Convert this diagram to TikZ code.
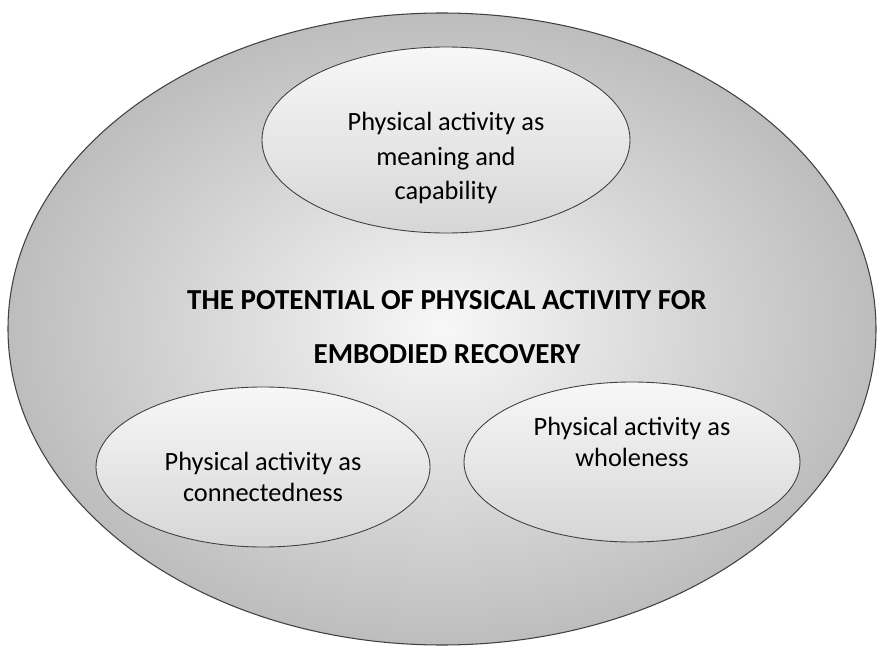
\documentclass[tikz,border=0pt]{standalone}
\usepackage{fontspec}
\setmainfont{Carlito}
\usetikzlibrary{shapes.geometric}

\definecolor{rimgray}{HTML}{BDBDBD}
\definecolor{linegray}{HTML}{404040}

\tikzset{
  outer/.style={ellipse, draw=linegray, line width=0.6pt, inner sep=0pt,
    inner color=white!97!black, outer color=rimgray},
  theme/.style={ellipse, draw=linegray, line width=0.5pt, inner sep=0pt,
    top color=white!97!black, bottom color=white!84!black,
    minimum width=6.7cm, minimum height=3.2cm},
  themetext/.style={align=center, font=\fontsize{15}{18}\selectfont},
  titletext/.style={align=center, font=\fontsize{16.5}{31}\selectfont\bfseries}
}

\begin{document}
\begin{tikzpicture}
    \useasboundingbox (0,0) rectangle (17.54,12.92);

    %Grande ellipse
    \node[outer, minimum width=17.36cm, minimum height=12.64cm] (potential) at (8.84,6.34) {};
    \node[titletext] (title) at (8.94,6.38) {THE POTENTIAL OF PHYSICAL ACTIVITY FOR\\EMBODIED RECOVERY};

    %Themes
    \node[theme, minimum width=7.36cm, minimum height=3.72cm] (meaning) at (8.92,10.12) {};
    \node[theme, minimum width=6.68cm] (connected) at (5.26,3.58) {};
    \node[theme, minimum width=6.72cm] (whole) at (12.64,3.68) {};

    %Textes
    \node[themetext, font=\fontsize{15}{19.5}\selectfont] (meaningtxt) at ([yshift=-0.36cm]meaning.center) {Physical activity as\\meaning and\\capability};
    \node[themetext] (connectedtxt) at ([yshift=-0.2cm]connected.center) {Physical activity as\\connectedness};
    \node[themetext] (wholetxt) at ([yshift=0.4cm]whole.center) {Physical activity as\\wholeness};
\end{tikzpicture}
\end{document}
